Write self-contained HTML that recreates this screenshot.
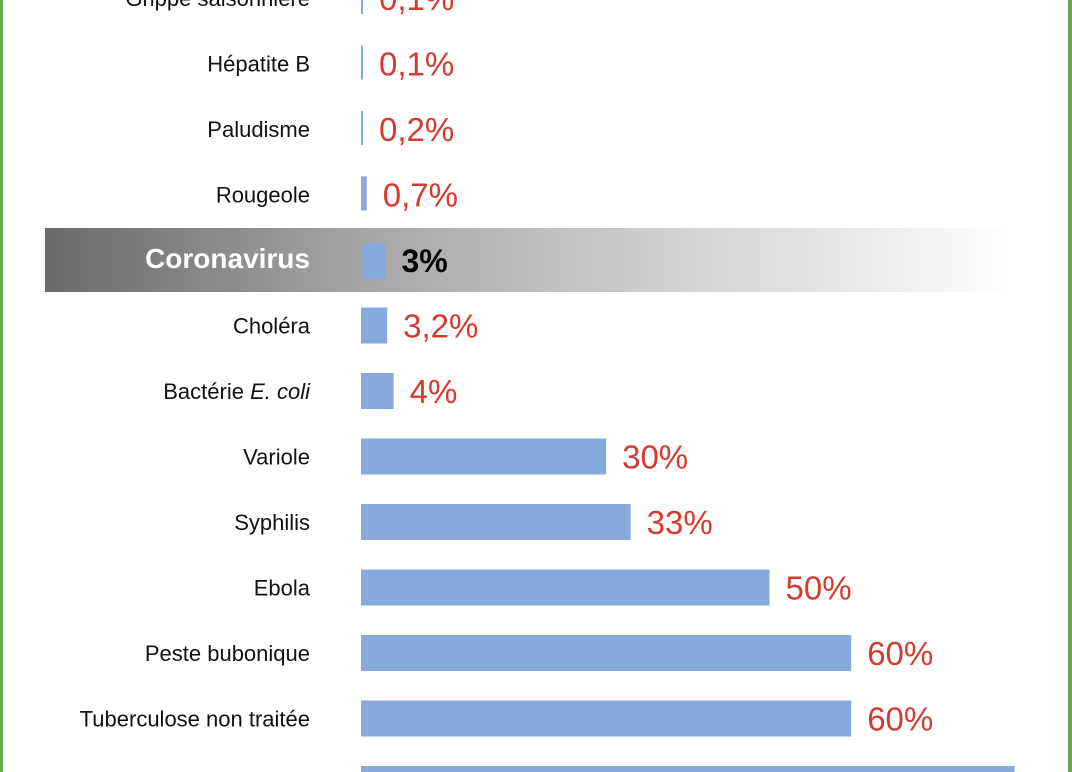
<!DOCTYPE html>
<html><head><meta charset="utf-8"><style>
html,body{margin:0;padding:0;background:#fff;}
svg{display:block;}
text{font-family:"Liberation Sans Narrow","Liberation Sans",sans-serif;}
</style></head><body>
<svg id="chart" width="1072" height="772" viewBox="0 0 1072 772">
<defs>
<linearGradient id="hl" x1="0" x2="1" y1="0" y2="0">
<stop offset="0" stop-color="#6a6a6a"/>
<stop offset="0.35" stop-color="#a9a9a9"/>
<stop offset="1" stop-color="#ffffff"/>
</linearGradient>
<clipPath id="clip"><rect x="3" y="0" width="1065" height="772"/></clipPath>
</defs>
<rect x="45" y="228" width="970" height="64" fill="url(#hl)"/>
<g id="plot" clip-path="url(#clip)"></g>
<rect x="0" y="0" width="3" height="772" fill="#6aa84f"/>
<rect x="1068" y="0" width="4" height="772" fill="#6aa84f"/>
</svg>
<script>
const categories = ["Grippe saisonnière","Hépatite B","Paludisme","Rougeole","Coronavirus","Choléra","Bactérie E. coli","Variole","Syphilis","Ebola","Peste bubonique","Tuberculose non traitée","Rage"];
const values = [0.1,0.1,0.2,0.7,3,3.2,4,30,33,50,60,60,80];
const valueLabels = ["0,1%","0,1%","0,2%","0,7%","3%","3,2%","4%","30%","33%","50%","60%","60%","80%"];
const highlight = "Coronavirus";

const NS = "http://www.w3.org/2000/svg";
const g = document.getElementById("plot");
const x0 = 361, pxPer = 8.17;
const xScale = v => Math.max(2, v * pxPer);
const yCenter = i => -2 + i * 65.5;
const barH = 36;

categories.forEach((c, i) => {
  const yc = yCenter(i);
  const w = xScale(values[i]);
  const isHl = c === highlight;
  const bar = document.createElementNS(NS, "rect");
  bar.setAttribute("x", x0);
  bar.setAttribute("y", yc - barH / 2 + (isHl ? 1 : 0));
  bar.setAttribute("width", w);
  bar.setAttribute("height", values[i] < 1 ? 34 : barH);
  bar.setAttribute("fill", "#86aadb");
  
  
  g.appendChild(bar);

  const lab = document.createElementNS(NS, "text");
  lab.setAttribute("x", 310);
  lab.setAttribute("y", yc + 8);
  lab.setAttribute("text-anchor", "end");
  lab.setAttribute("font-size", isHl ? 28 : 22);
  lab.setAttribute("fill", isHl ? "#ffffff" : "#111");
  if (isHl) lab.setAttribute("font-weight", "bold");
  if (c.indexOf("E. coli") >= 0) {
    lab.appendChild(document.createTextNode("Bactérie "));
    const it = document.createElementNS(NS, "tspan");
    it.setAttribute("font-style", "italic");
    it.textContent = "E. coli";
    lab.appendChild(it);
  } else {
    lab.textContent = c;
  }
  
  
  g.appendChild(lab);

  const vl = document.createElementNS(NS, "text");
  let vx = Math.max(374, x0 + w + 16);
  if (vx > 980) vx = 930;
  vl.setAttribute("x", vx);
  vl.setAttribute("y", yc + 12);
  vl.setAttribute("font-size", isHl ? 32 : 33);
  vl.setAttribute("fill", isHl ? "#000" : (vx === 930 ? "#c9d8ef" : "#d63a2f"));
  if (isHl) vl.setAttribute("font-weight", "bold");
  vl.textContent = valueLabels[i];
  
  
  g.appendChild(vl);
});
</script>
</body></html>
